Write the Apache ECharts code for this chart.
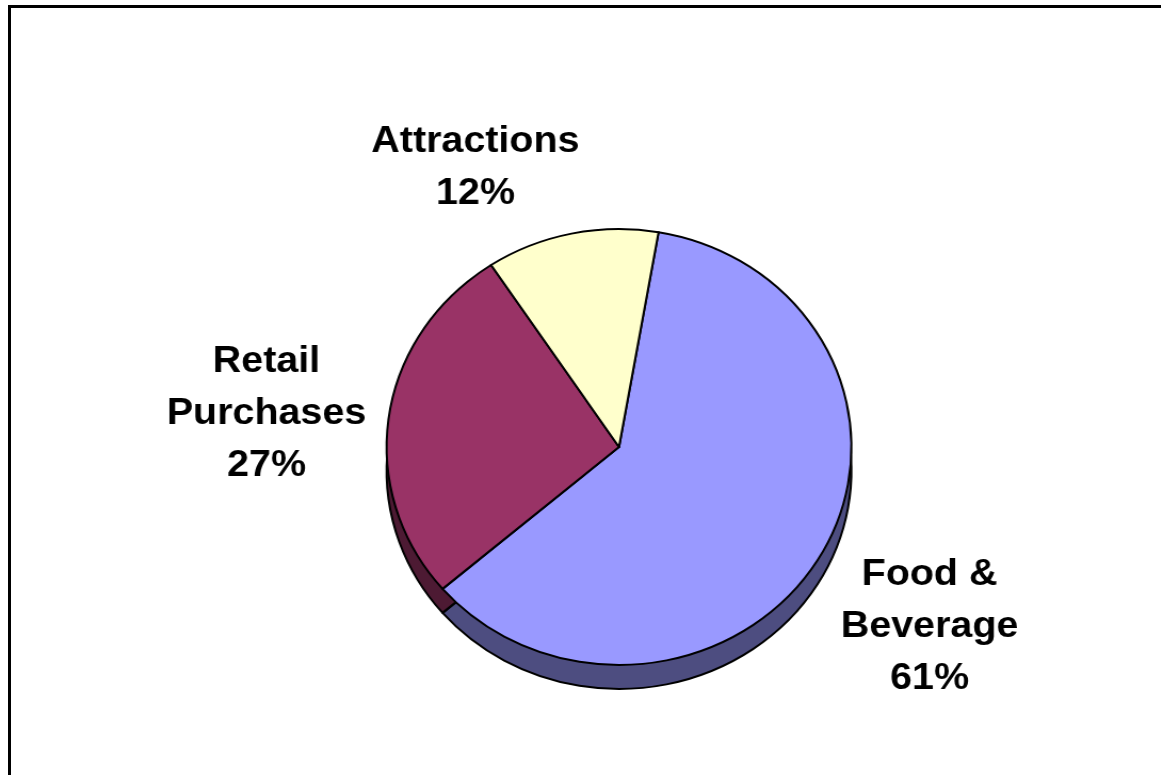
<!DOCTYPE html>
<html>
<head>
<meta charset="utf-8">
<script src="https://cdn.jsdelivr.net/npm/echarts@6/dist/echarts.min.js"></script>
<style>
  html, body { margin: 0; padding: 0; background: #fff; overflow: hidden; }
  #frame { position: absolute; left: 8px; top: 5px; width: 1200px; height: 820px; border: 3px solid #000; box-sizing: border-box; }
  #chart { position: absolute; left: 0; top: 0; width: 1089px; height: 775px; transform: scaleX(1.066); transform-origin: 0 0; }
</style>
</head>
<body>
<div id="frame"></div>
<div id="chart"></div>
<script>
const categories = ['Food &\nBeverage', 'Retail\nPurchases', 'Attractions'];
const shares = [61, 27, 12];
const topColors = ['#9999ff', '#993366', '#ffffcc'];
const sideColors = ['#4d4d80', '#4d1a33', '#80806a'];
// label anchor positions (chart coordinates, before horizontal stretch)
const labelAnchors = [[872, 627], [250, 414], [446, 168]];

const chart = echarts.init(document.getElementById('chart'), null, { renderer: 'canvas' });
const sx = 1.066;
const cx = 619 / sx, cy = 447, r = 218, depth = 24, startAngle = 80.2;

const topData = categories.map((c, i) => ({ name: c, value: shares[i], itemStyle: { color: topColors[i] } }));
const sideData = categories.map((c, i) => ({ name: c, value: shares[i], itemStyle: { color: sideColors[i] } }));

chart.setOption({
  animation: false,
  backgroundColor: 'transparent',
  series: [
    {
      type: 'pie',
      silent: true,
      z: 1,
      center: [cx, cy + depth],
      radius: [0, r],
      startAngle: startAngle,
      clockwise: true,
      label: { show: false },
      labelLine: { show: false },
      itemStyle: { borderColor: '#000', borderWidth: 2 },
      data: sideData
    },
    {
      type: 'pie',
      z: 2,
      center: [cx, cy],
      radius: [0, r],
      startAngle: startAngle,
      clockwise: true,
      itemStyle: { borderColor: '#000', borderWidth: 2 },
      emphasis: { disabled: true },
      label: {
        show: true,
        position: 'outside',
        formatter: '{b}\n{d}%',
        fontFamily: 'Liberation Sans, Arial, sans-serif',
        fontWeight: 'bold',
        fontSize: 37,
        lineHeight: 52,
        color: '#000',
        align: 'center'
      },
      labelLine: { show: false },
      labelLayout: function (p) {
        const a = labelAnchors[p.dataIndex];
        return { x: a[0], y: a[1], align: 'center', verticalAlign: 'middle', hideOverlap: false };
      },
      data: topData
    }
  ]
});
</script>
</body>
</html>
